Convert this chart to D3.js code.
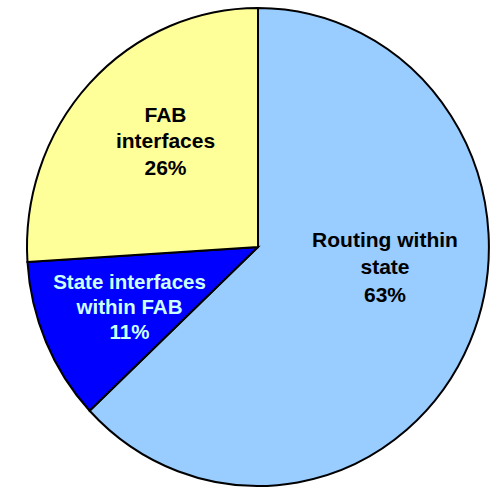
<!DOCTYPE html>
<html><head><meta charset="utf-8">
<script src="https://cdn.jsdelivr.net/npm/d3@7"></script>
<style>html,body{margin:0;padding:0;background:#fff;}</style>
</head><body>
<svg id="chart" width="490" height="488"></svg>
<script>
const categories = ["Routing within state", "State interfaces within FAB", "FAB interfaces"];
const values = [63, 11, 26];
const labelLines = [["Routing within", "state", "63%"], ["State interfaces", "within FAB", "11%"], ["FAB", "interfaces", "26%"]];
const colors = ["#99CCFF", "#0000FF", "#FFFF99"];
const textColors = ["#000000", "#CCFFFF", "#000000"];

const svg = d3.select("#chart");
const cx = 258, cy = 247, rx = 231, ry = 239;
const g = svg.append("g").attr("transform", `translate(${cx},${cy})`);
const pie = d3.pie().sort(null).value(d => d)(values);
const arc = d3.arc().innerRadius(0).outerRadius(1);
const sg = g.append("g").attr("transform", `scale(${rx},${ry})`);
sg.selectAll("path").data(pie).join("path")
  .attr("d", arc)
  .attr("fill", (d, i) => colors[i])
  .attr("stroke", "#000")
  .attr("stroke-width", 2)
  .attr("vector-effect", "non-scaling-stroke")
  .attr("stroke-linejoin", "miter");

// label layout (offsets from pie centre, in px)
const labelLayout = [
  {dx: 127, dy: 20, fs: 21, lh: 27.5},
  {dx: -128.5, dy: 60, fs: 20.5, lh: 25},
  {dx: -92.5, dy: -106, fs: 21, lh: 26.5}
];
pie.forEach((d, i) => {
  const p = labelLayout[i];
  const t = g.append("text")
    .attr("text-anchor", "middle")
    .attr("font-family", "Liberation Sans, Arial, sans-serif")
    .attr("font-weight", "bold")
    .attr("font-size", p.fs)
    .attr("fill", textColors[i]);
  const n = labelLines[i].length;
  labelLines[i].forEach((ln, k) => {
    t.append("tspan").attr("x", p.dx).attr("y", p.dy + (k - (n - 1) / 2) * p.lh + p.fs * 0.35).text(ln);
  });
});
</script>
</body></html>
